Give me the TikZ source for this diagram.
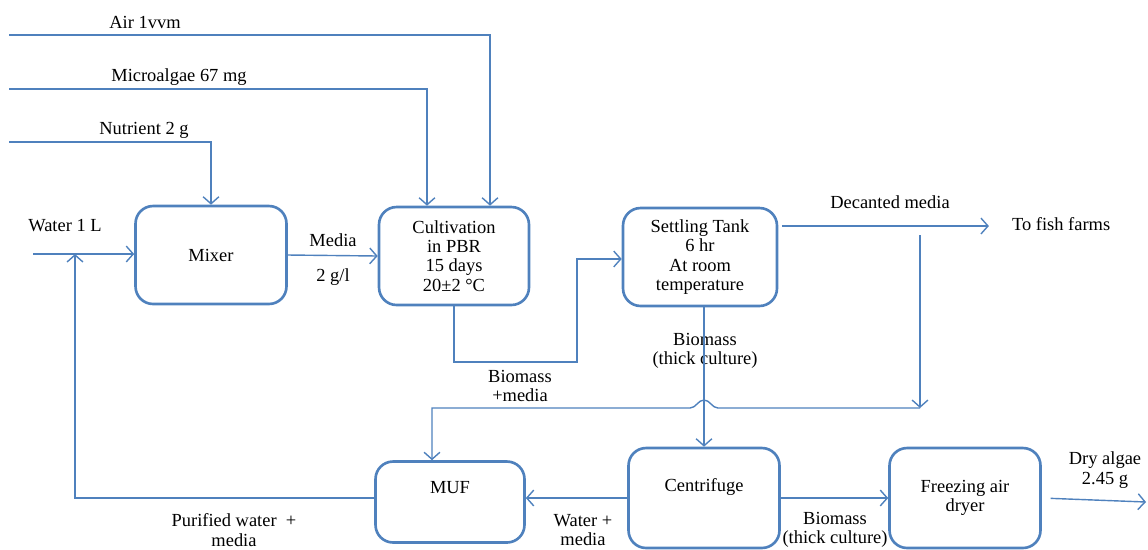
\documentclass[tikz,border=0pt]{standalone}
\usepackage{fontspec}
\setmainfont{Liberation Serif}
\usepackage{tikz}
\usetikzlibrary{arrows.meta}

\definecolor{flowblue}{RGB}{79,129,189}

\begin{document}
\begin{tikzpicture}[x=0.02cm,y=-0.02cm,
    font=\fontsize{10.5}{11}\selectfont,
    >={Straight Barb[length=4pt,width=9pt,line width=0.8pt]},
    box/.style={draw=flowblue,line width=1.5pt,rounded corners=10pt,align=center,
        minimum width=3.02cm,minimum height=1.96cm,inner sep=2pt},
    flow/.style={draw=flowblue,line width=0.8pt},
    lbl/.style={align=center,inner sep=1pt}]
    \useasboundingbox (0,0) rectangle (1148,549);

    \node[box] (mixer) at (211,255) {Mixer};
    \node[box,minimum width=3cm] (pbr) at (454,256) {Cultivation\\in PBR\\15 days\\20±2 °C};
    \node[box,minimum width=3.08cm] (settle) at (700,257) {Settling Tank\\6 hr\\At room\\temperature};
    \node[box,minimum width=2.98cm,minimum height=1.62cm] (muf) at (450,502) {MUF\\[6pt]};
    \node[box,minimum height=2cm] (cent) at (704,498) {Centrifuge\\[4pt]};
    \node[box,minimum height=2cm] (dryer) at (965,498) {Freezing air\\dryer};

    \node[lbl] (airlbl) at (145,22) {Air 1vvm};
    \node[lbl] (algaelbl) at (179,77) {Microalgae 67 mg};
    \node[lbl] (nutlbl) at (144,130) {Nutrient 2 g};
    \node[lbl] (waterlbl) at (65,226) {Water 1 L};
    \node[lbl] (medialbl) at (333,240) {Media};
    \node[lbl] (conclbl) at (333,277) {2 g/l};
    \node[lbl] (bmlbl) at (520,386) {Biomass\\+media};
    \node[lbl] (declbl) at (890,202) {Decanted media};
    \node[lbl,anchor=west] (fish) at (1010,224) {To fish farms};
    \node[lbl] (thicklbl) at (705,351) {Biomass\\(thick culture)};
    \node[lbl] (purelbl) at (234,530) {Purified water\ \ +\\media};
    \node[lbl] (wmlbl) at (583,530) {Water +\\media};
    \node[lbl] (thicktwolbl) at (835,530) {Biomass\\(thick culture)};
    \node[lbl] (drylbl) at (1105,470) {Dry algae\\2.45 g};

    \coordinate (air) at (9,35);
    \coordinate (algae) at (9,89);
    \coordinate (nut) at (9,142);
    \coordinate (water) at (33,254);
    \coordinate (tap) at (920,235);
    \coordinate (join) at (920,408);
    \coordinate (dry) at (1146,502);

    % feeds
    \draw[flow,->] (air) -| (490,0 |- pbr.north);
    \draw[flow,->] (algae) -| (427,0 |- pbr.north);
    \draw[flow,->] (nut) -| (mixer.north);
    \draw[flow,->] (water) -- (water -| mixer.west);

    % main line
    \draw[flow,->] (mixer.east) -- (pbr.west);
    \draw[flow,->] (pbr.south) |- (577,362) |- (settle.west |- 0,259);
    \draw[flow,->,shorten <=2pt,shorten >=12pt] (settle.east |- 0,226) -- (fish.west |- 0,226);
    \draw[flow,->] (tap) -- (join);
    \draw[flow,->] (join) -- (718,408) .. controls (712,408) and (710,400) .. (704,400)
        .. controls (698,400) and (696,408) .. (690,408) -- (432,408) -- (432,0 |- muf.north);
    \draw[flow,->] (settle.south -| cent.north) -- (cent.north);
    \draw[flow,->] (cent.west) -- (cent.west -| muf.east);
    \draw[flow,->] (muf.west |- cent.west) -| (75,0 |- water);
    \draw[flow,->] (cent.east) -- (dryer.west);
    \draw[flow,->,shorten <=5pt] (dryer.east) -- (dry);
\end{tikzpicture}
\end{document}
